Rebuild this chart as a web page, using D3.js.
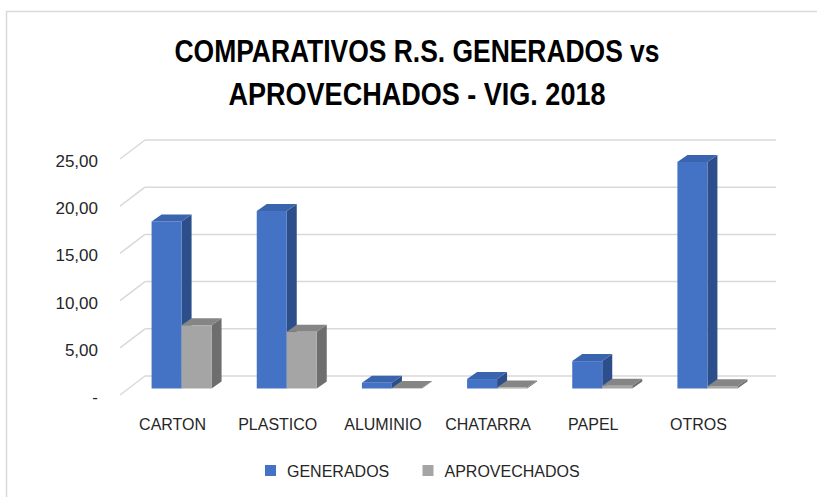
<!DOCTYPE html>
<html><head><meta charset="utf-8">
<script src="https://cdn.jsdelivr.net/npm/d3@7"></script>
<style>
html,body{margin:0;padding:0;background:#fff;}
svg{display:block;font-family:"Liberation Sans",Arial,sans-serif;}
</style></head>
<body>
<script>
const categories = ["CARTON","PLASTICO","ALUMINIO","CHATARRA","PAPEL","OTROS"];
const generados = [17.7, 18.8, 0.6, 1.0, 2.9, 24.0];
const aprovechados = [6.7, 6.0, 0.05, 0.1, 0.3, 0.25];
const seriesNames = ["GENERADOS","APROVECHADOS"];
const yTicks = [0,5,10,15,20,25];
const titleLines = ["COMPARATIVOS R.S. GENERADOS vs","APROVECHADOS - VIG. 2018"];

const W = 817, H = 497;
const svg = d3.select("body").append("svg").attr("width",W).attr("height",H);

// chart border
svg.append("rect").attr("x",6.5).attr("y",11.5).attr("width",830).attr("height",500)
  .attr("fill","#fff").attr("stroke","#d9d9d9").attr("stroke-width",1.5);

// title
const tl = [{t:titleLines[0], y:62, w:485},{t:titleLines[1], y:105, w:377}];
svg.selectAll("text.title").data(tl).enter().append("text")
  .attr("class","title").attr("x",417).attr("y",d=>d.y)
  .attr("text-anchor","middle").attr("font-size",32).attr("font-weight","bold")
  .attr("fill","#000").attr("textLength",d=>d.w).attr("lengthAdjust","spacingAndGlyphs")
  .text(d=>d.t);

// geometry
const floorDX = 25, floorDY = -19;   // front -> back
const frontLeft = 120, frontRight = 751;
const y = d3.scaleLinear().domain([0,25]).range([376,140]); // back wall
const x = d3.scaleBand().domain(categories).range([frontLeft, frontRight]);
const series = d3.scaleBand().domain(seriesNames).range([-30,30]);
const barShiftX = 9, barShiftY = 12.5;  // bar front plane relative to back wall baseline
const bdx = 10, bdy = -7;  // bar depth

// gridlines: back wall + side wall
const grid = svg.append("g");
yTicks.forEach(v=>{
  grid.append("line").attr("x1",frontLeft+floorDX).attr("x2",frontRight+floorDX+0)
    .attr("y1",y(v)).attr("y2",y(v)).attr("stroke","#d9d9d9").attr("stroke-width",1.5);
  grid.append("line").attr("x1",frontLeft).attr("y1",y(v)-floorDY)
    .attr("x2",frontLeft+floorDX).attr("y2",y(v)).attr("stroke","#d9d9d9").attr("stroke-width",1.5);
});

// y labels
const fmt = v => v===0 ? "-" : d3.format(".2f")(v).replace(".",",");
svg.selectAll("text.ylab").data(yTicks).enter().append("text")
  .attr("x",98).attr("y",v=>y(v)-floorDY+2).attr("dy","0.35em")
  .attr("text-anchor","end").attr("font-size",17).attr("fill","#262626")
  .text(fmt);

// bars
const colors = {
  GENERADOS:{front:"#4472c4", side:"#2c4f8c", top:"#3a64ad"},
  APROVECHADOS:{front:"#a5a5a5", side:"#6e6e6e", top:"#858585"}
};
const yFront = v => y(v) + barShiftY;
const data = [];
categories.forEach((c,i)=>{
  data.push({cat:c, s:"GENERADOS", v:generados[i]});
  data.push({cat:c, s:"APROVECHADOS", v:aprovechados[i]});
});
const bars = svg.append("g");
data.forEach(d=>{
  const x0 = x(d.cat) + x.bandwidth()/2 + barShiftX + series(d.s);
  const x1 = x0 + series.bandwidth();
  const yb = yFront(0), yt = yFront(d.v);
  const c = colors[d.s];
  const g = bars.append("g");
  g.append("path").attr("fill",c.side)
    .attr("d",`M${x1},${yb}L${x1+bdx},${yb+bdy}L${x1+bdx},${yt+bdy}L${x1},${yt}Z`);
  g.append("path").attr("fill",c.top)
    .attr("d",`M${x0},${yt}L${x0+bdx},${yt+bdy}L${x1+bdx},${yt+bdy}L${x1},${yt}Z`);
  g.append("rect").attr("x",x0).attr("y",yt).attr("width",x1-x0).attr("height",yb-yt)
    .attr("fill",c.front);
});

// x labels
svg.selectAll("text.xlab").data(categories).enter().append("text")
  .attr("x",d=>x(d)+x.bandwidth()/2).attr("y",430)
  .attr("text-anchor","middle").attr("font-size",16).attr("fill","#262626")
  .text(d=>d);

// legend
const leg = [{n:seriesNames[0], x:265},{n:seriesNames[1], x:422.5}];
leg.forEach(l=>{
  svg.append("rect").attr("x",l.x).attr("y",465).attr("width",11).attr("height",11)
    .attr("fill",colors[l.n].front);
  svg.append("text").attr("x",l.x+22).attr("y",477).attr("font-size",16)
    .attr("fill","#262626").text(l.n);
});
</script>
</body></html>
